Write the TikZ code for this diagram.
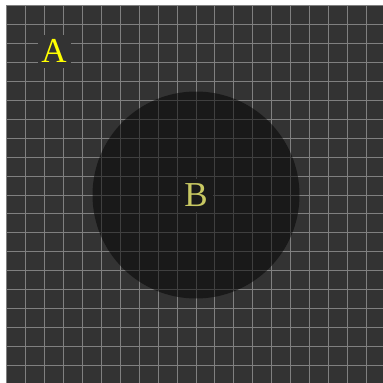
\documentclass[tikz,border=0pt]{standalone}
\usepackage{fontspec}
\setmainfont{Liberation Serif}
\definecolor{bgdark}{HTML}{333333}
\definecolor{gridc}{HTML}{808080}
\definecolor{circc}{HTML}{000000}
\definecolor{lblA}{HTML}{FFFF00}
\definecolor{lblB}{HTML}{C8C862}
\definecolor{boxB}{HTML}{1A1A1A}
\tikzset{
  gridline/.style={draw=gridc, line width=1pt},
  lbl/.style={font=\fontsize{35}{35}\selectfont, inner sep=0pt, minimum width=33pt, minimum height=33pt}
}
\begin{document}
\begin{tikzpicture}[x=1pt,y=-1pt]
\useasboundingbox (0,0) rectangle (383,383);
\fill[white] (0,0) rectangle (383,383);
\fill[bgdark] (6,5) rectangle (383,383);
\begin{scope}
\clip (6,5) rectangle (383,383);
\foreach \i in {0,...,20}{
  \draw[gridline] ({6.5+18.95*\i},5) -- ({6.5+18.95*\i},383);
  \draw[gridline] (6,{5.5+18.95*\i}) -- (383,{5.5+18.95*\i});
}
\end{scope}
\node[lbl, fill=bgdark, text=lblA] (A) at (54,51) {A};
\fill[circc, opacity=0.5] (196,195) circle (103.5);
\node[lbl, fill=boxB, text=lblB] (B) at (196,195) {B};
\end{tikzpicture}
\end{document}
